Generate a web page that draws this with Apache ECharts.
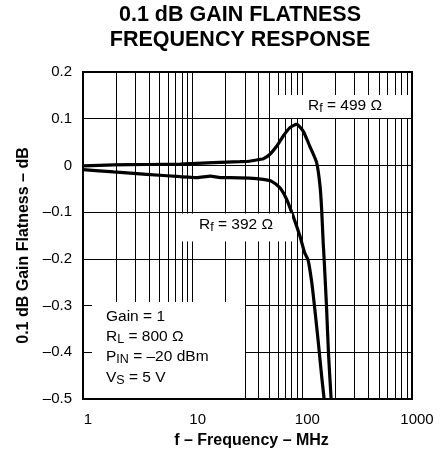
<!DOCTYPE html>
<html>
<head>
<meta charset="utf-8">
<script src="https://cdn.jsdelivr.net/npm/echarts@6/dist/echarts.min.js"></script>
<style>
  html, body { margin: 0; padding: 0; background: #fff; }
  #chart { width: 448px; height: 454px; }
</style>
</head>
<body>
<div id="chart"></div>
<script>
// Rf = 499 ohm (upper curve with peaking)
var freq499 = [1, 1.9, 3.8, 7.7, 15.4, 27, 33, 41, 44, 50.7, 58.3, 67, 77, 88.7, 102, 117, 135, 145, 150, 155, 158, 166, 173, 183]
var gain499 = [-0.001, 0.001, 0.002, 0.003, 0.006, 0.008, 0.009, 0.013, 0.014, 0.024, 0.041, 0.063, 0.081, 0.088, 0.073, 0.041, 0.006, -0.044, -0.094, -0.166, -0.2, -0.3, -0.4, -0.5]

// Rf = 392 ohm (lower curve)
var freq392 = [1, 1.9, 3.8, 7.7, 10.9, 14.5, 18, 21.8, 33, 44, 52.5, 62.5, 72, 82.5, 95, 105, 113, 122, 130, 140, 150, 158]
var gain392 = [-0.009, -0.014, -0.019, -0.024, -0.026, -0.023, -0.026, -0.026, -0.027, -0.030, -0.034, -0.048, -0.073, -0.109, -0.151, -0.187, -0.203, -0.251, -0.308, -0.38, -0.451, -0.5]

// vertical grid lines of the log paper
var gridFreqs = [2, 3, 4, 5, 6, 7, 8, 9, 10, 20, 30, 40, 50, 60, 70, 80, 90, 100, 200, 300, 400, 500, 600, 700, 800, 900]

var xTicks = [1, 10, 100, 1000]

var FONT = 'Liberation Sans, Arial, Helvetica, sans-serif'

function pairs(xs, ys) {
  return xs.map(function (x, i) { return [x, ys[i]] })
}

function fmtY(v) {
  var r = Math.round(v * 10) / 10
  if (r === 0) return '0'
  return (r < 0 ? '\u2013' : '') + Math.abs(r).toFixed(1)
}

var normal = { fontSize: 15.5, fontFamily: FONT, color: '#000' }
var sub = { fontSize: 12.5, fontFamily: FONT, color: '#000', padding: [6, 0, 0, 0] }

// eslint-disable-next-line no-undef
var myChart = echarts.init(document.getElementById('chart'))
var option = {
  animation: false,
  backgroundColor: '#fff',
  title: {
    text: '0.1 dB GAIN FLATNESS\nFREQUENCY RESPONSE',
    left: 240,
    top: 3,
    padding: 0,
    textAlign: 'center',
    textStyle: {
      fontFamily: FONT,
      fontSize: 21.5,
      fontWeight: 'bold',
      lineHeight: 25,
      color: '#000'
    }
  },
  grid: {
    left: 83,
    right: 36,
    top: 72,
    bottom: 55,
    show: true,
    borderColor: '#000',
    borderWidth: 2
  },
  xAxis: {
    type: 'log',
    logBase: 10,
    min: 1,
    max: 1000,
    name: 'f \u2013 Frequency \u2013 MHz',
    nameLocation: 'middle',
    nameGap: 34,
    nameTextStyle: {
      fontFamily: FONT,
      fontSize: 16,
      fontWeight: 'bold',
      color: '#000',
      padding: [0, 0, 0, 8]
    },
    axisLine: { show: false },
    axisTick: { show: false },
    splitLine: { show: false },
    minorSplitLine: { show: false },
    axisLabel: {
      margin: 13,
      fontFamily: FONT,
      fontSize: 15,
      color: '#000',
      padding: [0, 0, 0, 10],
      formatter: function (v) {
        var r = Math.round(v)
        return xTicks.indexOf(r) >= 0 ? String(r) : ''
      }
    }
  },
  yAxis: {
    type: 'value',
    min: -0.5,
    max: 0.2,
    interval: 0.1,
    name: '0.1 dB Gain Flatness \u2013 dB',
    nameLocation: 'middle',
    nameGap: 50,
    nameTextStyle: {
      fontFamily: FONT,
      fontSize: 16,
      fontWeight: 'bold',
      color: '#000',
      padding: [0, 20, 0, 0]
    },
    axisLine: { show: false },
    axisTick: { show: false },
    splitLine: { show: true, lineStyle: { color: '#000', width: 1 } },
    axisLabel: {
      margin: 11,
      fontFamily: FONT,
      fontSize: 15,
      color: '#000',
      formatter: fmtY
    }
  },
  series: [
    {
      name: 'Rf = 499',
      type: 'line',
      data: pairs(freq499, gain499),
      showSymbol: false,
      smooth: 0.2,
      lineStyle: { color: '#000', width: 3.2 },
      markLine: {
        silent: true,
        symbol: 'none',
        label: { show: false },
        lineStyle: { color: '#000', width: 1, type: 'solid' },
        data: gridFreqs.map(function (f) { return { xAxis: f } })
      },
      z: 3
    },
    {
      name: 'Rf = 392',
      type: 'line',
      data: pairs(freq392, gain392),
      showSymbol: false,
      smooth: 0.2,
      lineStyle: { color: '#000', width: 3.2 },
      z: 3
    }
  ],
  graphic: [
    { type: 'rect', z: 10, shape: { x: 278, y: 95, width: 133, height: 23 }, style: { fill: '#fff' } },
    { type: 'rect', z: 10, shape: { x: 177, y: 213.5, width: 115, height: 28 }, style: { fill: '#fff' } },
    { type: 'rect', z: 10, shape: { x: 92, y: 302, width: 153, height: 96 }, style: { fill: '#fff' } },
    {
      type: 'text', z: 11, left: 308, top: 98,
      style: { text: '{n|R}{s|f}{n| = 499 \u03a9}', rich: { n: normal, s: sub } }
    },
    {
      type: 'text', z: 11, left: 199, top: 217,
      style: { text: '{n|R}{s|f}{n| = 392 \u03a9}', rich: { n: normal, s: sub } }
    },
    {
      type: 'text', z: 11, left: 106, top: 309,
      style: { text: '{n|Gain = 1}', rich: { n: normal } }
    },
    {
      type: 'text', z: 11, left: 106, top: 329,
      style: { text: '{n|R}{s|L}{n| = 800 \u03a9}', rich: { n: normal, s: sub } }
    },
    {
      type: 'text', z: 11, left: 106, top: 349,
      style: { text: '{n|P}{s|IN}{n| = \u201320 dBm}', rich: { n: normal, s: sub } }
    },
    {
      type: 'text', z: 11, left: 106, top: 370,
      style: { text: '{n|V}{s|S}{n| = 5 V}', rich: { n: normal, s: sub } }
    }
  ]
}
myChart.setOption(option)
</script>
</body>
</html>
